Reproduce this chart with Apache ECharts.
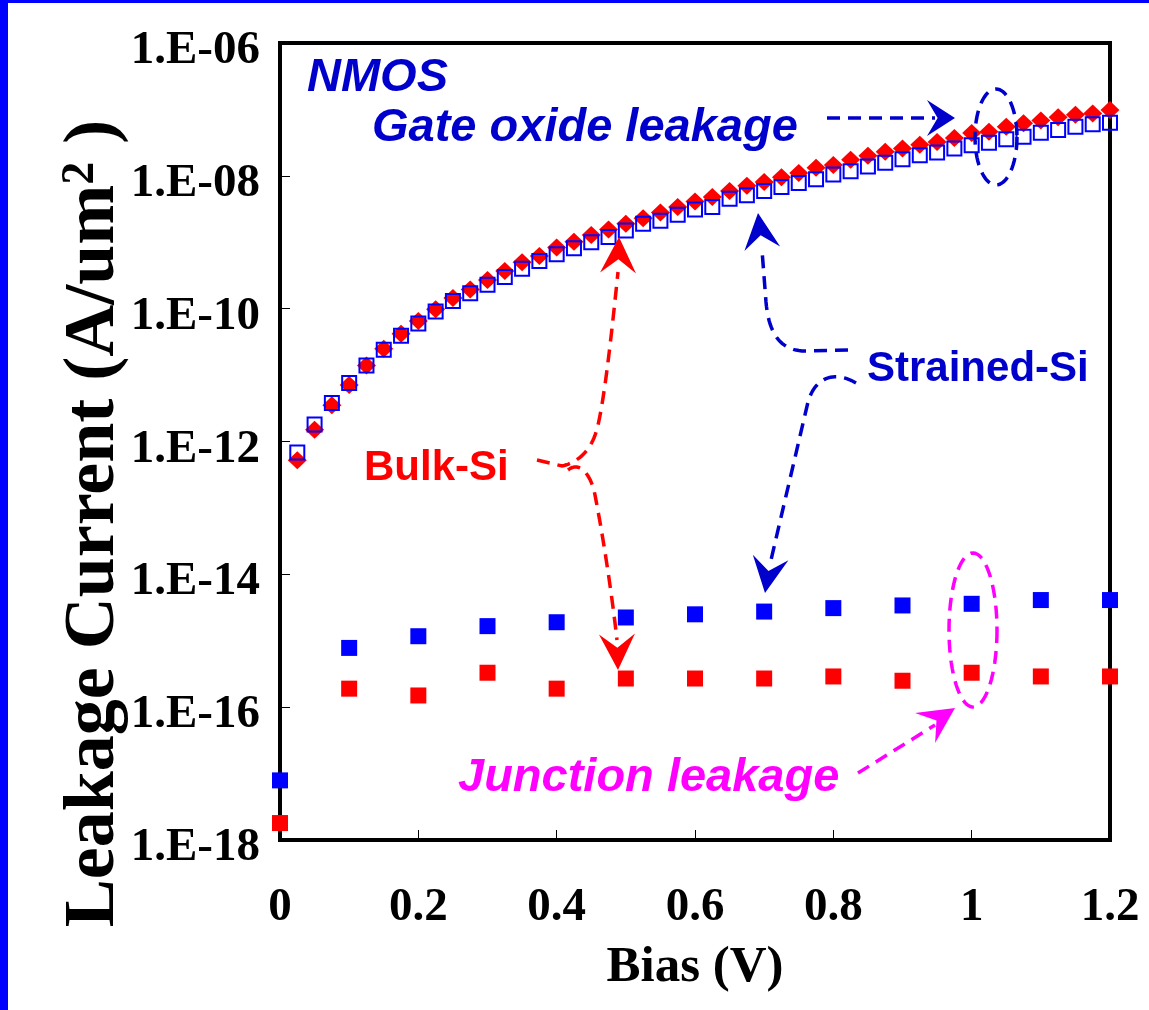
<!DOCTYPE html>
<html>
<head>
<meta charset="utf-8">
<title>NMOS Leakage Current vs Bias</title>
<script src="https://cdn.jsdelivr.net/npm/echarts@6/dist/echarts.min.js"></script>
<style>
  html, body { margin: 0; padding: 0; background: #fff; }
  #chart { width: 1149px; height: 1010px; }
</style>
</head>
<body>
<div id="chart"></div>
<script>
// Gate oxide leakage, swept in 25 mV steps
const gateBias = [
  0.025, 0.05, 0.075, 0.1, 0.125, 0.15, 0.175, 0.2, 0.225, 0.25, 0.275, 0.3,
  0.325, 0.35, 0.375, 0.4, 0.425, 0.45, 0.475, 0.5, 0.525, 0.55, 0.575, 0.6,
  0.625, 0.65, 0.675, 0.7, 0.725, 0.75, 0.775, 0.8, 0.825, 0.85, 0.875, 0.9,
  0.925, 0.95, 0.975, 1.0, 1.025, 1.05, 1.075, 1.1, 1.125, 1.15, 1.175, 1.2
];
const gateStrainedSi = [
  6.8e-13, 1.8e-12, 3.8e-12, 7.6e-12, 1.4e-11, 2.4e-11, 3.9e-11, 6.0e-11, 9.1e-11, 1.3e-10, 1.7e-10, 2.3e-10,
  3.0e-10, 4.0e-10, 5.2e-10, 6.6e-10, 8.1e-10, 1.0e-9, 1.2e-9, 1.5e-9, 1.9e-9, 2.1e-9, 2.6e-9, 3.1e-9,
  3.4e-9, 4.5e-9, 5.1e-9, 5.9e-9, 6.8e-9, 7.8e-9, 8.9e-9, 1.05e-8, 1.17e-8, 1.38e-8, 1.58e-8, 1.78e-8,
  2.04e-8, 2.24e-8, 2.57e-8, 2.88e-8, 3.16e-8, 3.55e-8, 3.89e-8, 4.47e-8, 4.9e-8, 5.5e-8, 6.0e-8, 6.3e-8
];
const gateBulkSi = [
  5.2e-13, 1.5e-12, 3.5e-12, 7.1e-12, 1.4e-11, 2.5e-11, 4.2e-11, 6.5e-11, 9.8e-11, 1.45e-10, 1.95e-10, 2.7e-10,
  3.7e-10, 5.0e-10, 6.2e-10, 8.3e-10, 1.02e-9, 1.29e-9, 1.55e-9, 1.9e-9, 2.3e-9, 2.8e-9, 3.4e-9, 4.1e-9,
  4.8e-9, 5.9e-9, 7.1e-9, 8.1e-9, 9.5e-9, 1.1e-8, 1.32e-8, 1.45e-8, 1.74e-8, 2.0e-8, 2.3e-8, 2.57e-8,
  2.95e-8, 3.24e-8, 3.7e-8, 4.4e-8, 4.6e-8, 5.5e-8, 6.2e-8, 6.8e-8, 7.6e-8, 8.3e-8, 8.7e-8, 9.8e-8
];

// Junction leakage, swept in 100 mV steps
const junctionBias = [0, 0.1, 0.2, 0.3, 0.4, 0.5, 0.6, 0.7, 0.8, 0.9, 1.0, 1.1, 1.2];
const junctionStrainedSi = [
  7.9e-18, 7.8e-16, 1.17e-15, 1.66e-15, 1.9e-15, 2.24e-15, 2.5e-15,
  2.75e-15, 3.1e-15, 3.4e-15, 3.6e-15, 4.1e-15, 4.1e-15
];
const junctionBulkSi = [
  1.8e-18, 1.9e-16, 1.5e-16, 3.3e-16, 1.9e-16, 2.7e-16, 2.7e-16,
  2.7e-16, 2.9e-16, 2.5e-16, 3.3e-16, 2.9e-16, 2.9e-16
];

// Axis ranges and tick steps
const xRange = [0, 1.2];
const xStep = 0.2;
const yRange = [1e-18, 1e-6];
const yDecadeStep = 2;

const pairs = (xs, ys) => xs.map((x, i) => [x, ys[i]]);

const SERIF = "'Liberation Serif', 'Times New Roman', Times, serif";
const SANS = "'Liberation Sans', Arial, Helvetica, sans-serif";
const BLUE = '#0000FF';
const DARK_BLUE = '#0000CC';
const RED = '#FF0000';
const MAGENTA = '#FF00FF';

// Stealth-style arrowhead: tip point plus a point the shaft comes from
function arrowHead(tip, from, color, len, halfW) {
  len = len || 36; halfW = halfW || 18;
  const dx = tip[0] - from[0], dy = tip[1] - from[1];
  const d = Math.hypot(dx, dy);
  const ux = dx / d, uy = dy / d, nx = -uy, ny = ux;
  const bx = tip[0] - ux * len, by = tip[1] - uy * len;
  const notch = [tip[0] - ux * len * 0.62, tip[1] - uy * len * 0.62];
  return {
    type: 'polygon', silent: true, z: 10,
    shape: { points: [tip, [bx + nx * halfW, by + ny * halfW], notch, [bx - nx * halfW, by - ny * halfW]] },
    style: { fill: color }
  };
}

// Flattens a list of [x,y] moves / cubic segments into polyline points.
// Each step is either [x, y] (straight line) or [c1x, c1y, c2x, c2y, x, y] (cubic).
function flatten(start, steps) {
  const pts = [start.slice()];
  let cur = start.slice();
  steps.forEach(s => {
    if (s.length === 2) {
      pts.push(s.slice()); cur = s.slice();
    } else {
      const [c1x, c1y, c2x, c2y, x, y] = s;
      for (let k = 1; k <= 24; k++) {
        const t = k / 24, m = 1 - t;
        pts.push([
          m * m * m * cur[0] + 3 * m * m * t * c1x + 3 * m * t * t * c2x + t * t * t * x,
          m * m * m * cur[1] + 3 * m * m * t * c1y + 3 * m * t * t * c2y + t * t * t * y
        ]);
      }
      cur = [x, y];
    }
  });
  return pts;
}

function dashedCurve(start, steps, color) {
  return {
    type: 'polyline', silent: true, z: 10,
    shape: { points: flatten(start, steps) },
    style: { fill: null, stroke: color, lineWidth: 3.5, lineDash: [13, 8] }
  };
}

function dashedEllipse(cx, cy, rx, ry, color) {
  const pts = [];
  for (let k = 0; k < 72; k++) {
    const t = (k / 72) * Math.PI * 2;
    pts.push([cx + rx * Math.cos(t), cy + ry * Math.sin(t)]);
  }
  return {
    type: 'polygon', silent: true, z: 10,
    shape: { points: pts },
    style: { fill: null, stroke: color, lineWidth: 3.5, lineDash: [13, 8] }
  };
}

function label(text, x, y, font, color) {
  return {
    type: 'text', silent: true, z: 11, x: x, y: y,
    style: { text: text, font: font, fill: color, align: 'left', verticalAlign: 'middle' }
  };
}

const chart = echarts.init(document.getElementById('chart'), null, { renderer: 'canvas' });

const option = {
  animation: false,
  backgroundColor: '#fff',
  grid: {
    left: 280, top: 43, right: 39, bottom: 170,
    outerBoundsMode: 'none',
    show: true, borderColor: '#000', borderWidth: 4, backgroundColor: 'transparent'
  },
  xAxis: {
    type: 'value',
    min: xRange[0], max: xRange[1], interval: xStep,
    name: 'Bias (V)',
    nameLocation: 'middle',
    nameGap: 102,
    nameTextStyle: { fontFamily: SERIF, fontWeight: 'bold', fontSize: 51, color: '#000' },
    axisLine: { show: true, lineStyle: { color: '#000', width: 4 } },
    axisTick: { show: true, inside: true, length: 10, lineStyle: { color: '#000', width: 1 } },
    splitLine: { show: false },
    axisLabel: {
      margin: 44,
      fontFamily: SERIF, fontWeight: 'bold', fontSize: 47, color: '#000',
      formatter: v => String(parseFloat(v.toFixed(1)))
    }
  },
  yAxis: {
    type: 'log', logBase: 10,
    min: yRange[0], max: yRange[1], interval: yDecadeStep,
    name: 'Leakage Current (A/um{s|2} )',
    nameLocation: 'middle',
    nameGap: 150,
    nameMoveOverlap: false,
    nameTextStyle: {
      fontFamily: SERIF, fontWeight: 'bold', fontSize: 72, color: '#000',
      padding: [0, 164, 0, 0],
      rich: { s: { fontFamily: SERIF, fontWeight: 'bold', fontSize: 46, color: '#000', verticalAlign: 'top' } }
    },
    axisLine: { show: true, lineStyle: { color: '#000', width: 4 } },
    axisTick: { show: true, inside: true, length: 10, lineStyle: { color: '#000', width: 1 } },
    minorTick: { show: false },
    splitLine: { show: false },
    axisLabel: {
      margin: 20,
      fontFamily: SERIF, fontWeight: 'bold', fontSize: 47, color: '#000',
      formatter: v => {
        const e = Math.round(Math.log10(v));
        return '{t|1.E' + (e < 0 ? '-' : '+') + String(Math.abs(e)).padStart(2, '0') + '}';
      },
      rich: {
        t: { fontFamily: SERIF, fontWeight: 'bold', fontSize: 47, color: '#000', padding: [16, 0, 0, 0] }
      }
    }
  },
  series: [
    {
      name: 'Bulk-Si gate oxide', type: 'scatter',
      data: pairs(gateBias, gateBulkSi),
      symbol: 'diamond', symbolSize: [19, 18],
      itemStyle: { color: RED, opacity: 1 }
    },
    {
      name: 'Strained-Si gate oxide', type: 'scatter',
      data: pairs(gateBias, gateStrainedSi),
      symbol: 'rect', symbolSize: 14,
      itemStyle: { color: 'rgba(0,0,0,0)', borderColor: BLUE, borderWidth: 2, opacity: 1 }
    },
    {
      name: 'Strained-Si junction', type: 'scatter',
      data: pairs(junctionBias, junctionStrainedSi),
      symbol: 'rect', symbolSize: 16, clip: false,
      itemStyle: { color: BLUE, opacity: 1 }
    },
    {
      name: 'Bulk-Si junction', type: 'scatter',
      data: pairs(junctionBias, junctionBulkSi),
      symbol: 'rect', symbolSize: 16, clip: false,
      itemStyle: { color: RED, opacity: 1 }
    }
  ],
  graphic: {
    elements: [
      // page frame
      { type: 'rect', silent: true, shape: { x: 0, y: 0, width: 8, height: 1010 }, style: { fill: BLUE } },
      { type: 'rect', silent: true, shape: { x: 0, y: 0, width: 1149, height: 3 }, style: { fill: BLUE } },

      // captions
      label('NMOS', 307, 78, 'italic bold 47px ' + SANS, DARK_BLUE),
      label('Gate oxide leakage', 372, 128, 'italic bold 47px ' + SANS, DARK_BLUE),
      label('Strained-Si', 867, 369, 'bold 42px ' + SANS, DARK_BLUE),
      label('Bulk-Si', 364, 468, 'bold 42px ' + SANS, RED),
      label('Junction leakage', 458, 778, 'italic bold 47px ' + SANS, MAGENTA),

      // gate oxide pointer and highlight
      dashedCurve([827, 118], [[935, 118]], DARK_BLUE),
      arrowHead([955, 118], [827, 118], DARK_BLUE, 28, 18),
      dashedEllipse(996, 137, 21, 48, DARK_BLUE),

      // Strained-Si pointers
      dashedCurve([848, 350], [[808, 351], [782, 352, 769, 336, 766, 302], [762, 250]], DARK_BLUE),
      arrowHead([758, 213], [763, 255], DARK_BLUE),
      dashedCurve([856, 383], [[838, 372, 816, 374, 808, 402], [771, 560]], DARK_BLUE),
      arrowHead([765, 593], [771, 555], DARK_BLUE),

      // Bulk-Si pointers
      dashedCurve([537, 460], [[562, 466], [580, 462, 593, 448, 598, 425], [605, 395, 612, 330, 618, 272]], RED),
      arrowHead([619, 237], [618, 275], RED),
      dashedCurve([568, 470], [[578, 462, 588, 470, 594, 490], [603, 535, 612, 595, 617, 640]], RED),
      arrowHead([618, 670], [617, 635], RED),

      // junction pointer and highlight
      dashedCurve([858, 773], [[935, 725]], MAGENTA),
      arrowHead([955, 708], [858, 773], MAGENTA),
      dashedEllipse(973, 630, 24, 77, MAGENTA)
    ]
  }
};

chart.setOption(option);
</script>
</body>
</html>
